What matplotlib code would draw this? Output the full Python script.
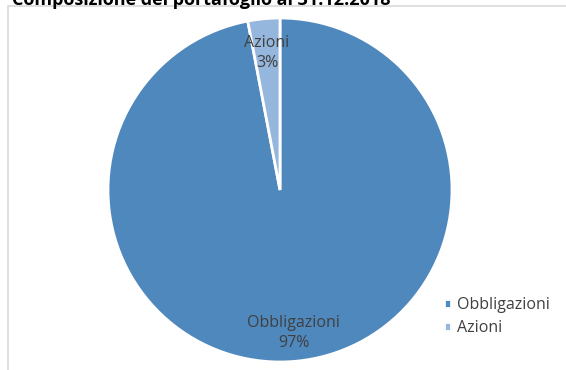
import matplotlib
matplotlib.use("Agg")
import numpy as np
import matplotlib.pyplot as plt
from matplotlib.patches import Rectangle

title = "Composizione del portafoglio al 31.12.2018"
categories = ["Obbligazioni", "Azioni"]
values = [97, 3]
colors = ["#4F88BD", "#95B6DD"]
label_dist = [0.835, 0.8]

plt.rcParams['font.family'] = ['Open Sans', 'DejaVu Sans']

W, H = 566, 370
fig = plt.figure(figsize=(W / 100, H / 100), dpi=100)
fig.patch.set_facecolor("white")

# chart frame (extends beyond the image on right/bottom)
fig.patches.append(Rectangle((8 / W, -0.1), 1.2, 1 - 6 / H + 0.1,
                             transform=fig.transFigure, fill=False,
                             edgecolor="#D9D9D9", linewidth=1.2))

cx, cy, r = 280, 190, 172
ax = fig.add_axes([(cx - r) / W, (H - cy - r) / H, 2 * r / W, 2 * r / H])
labels = [f"{c}\n{v}%" for c, v in zip(categories, values)]
wedges, texts = ax.pie(values, colors=colors, startangle=90, counterclock=False,
                       labels=labels, labeldistance=0.8,
                       wedgeprops=dict(edgecolor="white", linewidth=2),
                       textprops=dict(fontsize=11.5, color="#404040"))
for t, w, d in zip(texts, wedges, label_dist):
    ang = np.deg2rad((w.theta1 + w.theta2) / 2)
    t.set_position((d * np.cos(ang), d * np.sin(ang)))
    t.set_ha("center")
    t.set_va("center")
    t.set_linespacing(1.3)
ax.set_xlim(-1, 1)
ax.set_ylim(-1, 1)
ax.set_aspect("equal")
ax.axis("off")

fig.text(12 / W, 1 - 5 / H, title, fontsize=13, fontweight="bold",
         ha="left", va="baseline", color="black")

fig.legend(wedges, categories, loc="upper left",
           bbox_to_anchor=(444 / W, 1 - 297 / H), frameon=False,
           fontsize=11.5, handlelength=0.45, handleheight=0.45, handletextpad=0.35,
           labelspacing=0.45, labelcolor="#404040", borderaxespad=0, borderpad=0)

fig.savefig("out.png", dpi=100, facecolor="white")
